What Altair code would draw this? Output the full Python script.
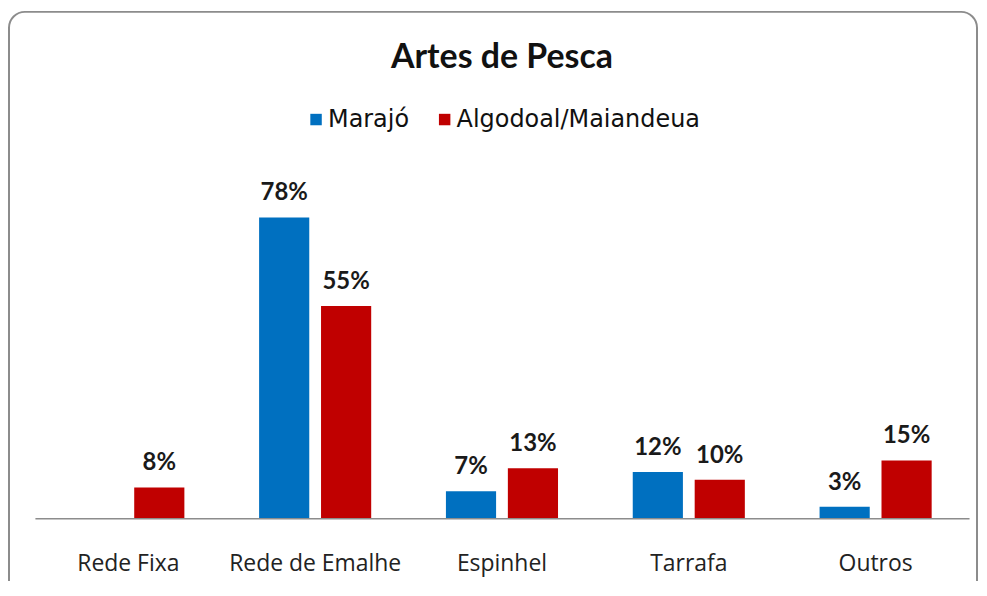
import altair as alt
import pandas as pd

categories = ["Rede Fixa", "Rede de Emalhe", "Espinhel", "Tarrafa", "Outros"]
series = ["Marajó", "Algodoal/Maiandeua"]
marajo = [0, 78, 7, 12, 3]
algodoal = [8, 55, 13, 10, 15]
colors = ["#0070C0", "#C00000"]

rows = []
for i, c in enumerate(categories):
    rows.append({"cat": c, "serie": series[0], "v": marajo[i], "label": f"{marajo[i]}%"})
    rows.append({"cat": c, "serie": series[1], "v": algodoal[i], "label": f"{algodoal[i]}%"})
df = pd.DataFrame(rows)

FONT = "Lato"

x = alt.X("cat:N", sort=categories, title=None,
          scale=alt.Scale(paddingInner=0.4, paddingOuter=0.2),
          axis=alt.Axis(labelAngle=0, ticks=False, labelPadding=34, labelFontSize=23,
                        labelFont="Open Sans", labelColor="#222222", domainColor="#8c8c8c",
                        domainWidth=1.5, zindex=1))
xo = alt.XOffset("serie:N", sort=series, scale=alt.Scale(paddingInner=0.19, paddingOuter=0))
y = alt.Y("v:Q", scale=alt.Scale(domain=[0, 100]), axis=None, title=None)

border = alt.Chart(pd.DataFrame({"a": [0]})).mark_rect(
    fill="transparent", stroke="#8c8c8c", strokeWidth=2, cornerRadius=16, clip=False
).encode(x=alt.value(-26), x2=alt.value(945), y=alt.value(-121), y2=alt.value(470))

bars = alt.Chart(df).mark_bar().encode(
    x=x, xOffset=xo, y=y,
    color=alt.Color("serie:N", sort=series, scale=alt.Scale(domain=series, range=colors),
                    legend=alt.Legend(title=None, orient="none", direction="horizontal",
                                      legendX=270, legendY=-25, symbolType="square",
                                      symbolSize=132, symbolStrokeWidth=0,
                                      labelFont="DejaVu Sans", labelFontSize=24,
                                      labelColor="#111111", columnPadding=23,
                                      labelOffset=0, labelLimit=400)),
)

text = alt.Chart(df).transform_filter("datum.v > 0").mark_text(
    baseline="alphabetic", dy=-17, fontSize=24, fontWeight="bold", font=FONT, color="#1a1a1a"
).encode(x=x, xOffset=xo, y=y, text="label:N")

chart = alt.layer(border, bars, text).properties(
    width=937, height=387,
    title=alt.TitleParams("Artes de Pesca", fontSize=34, fontWeight="bold", font=FONT,
                          color="#111111", anchor="middle", offset=0, dy=64),
    padding={"left": 27, "top": 124, "right": 10, "bottom": 62},
    autosize=alt.AutoSizeParams(type="none"),
).configure_view(stroke=None)

chart.save("out.html", embed_options={"renderer": "svg", "actions": False})
